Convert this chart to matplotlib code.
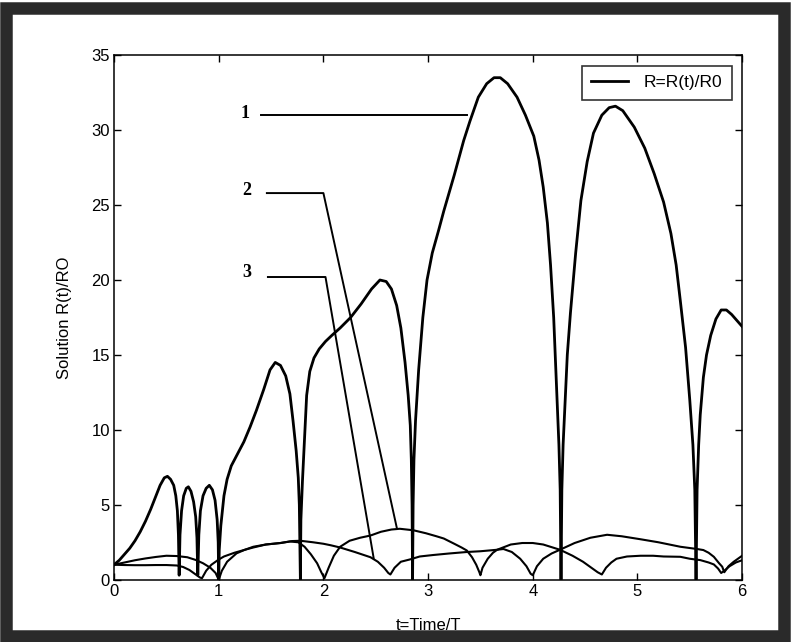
import matplotlib
matplotlib.use("Agg")
from matplotlib import pyplot as plt
from matplotlib.patches import Rectangle

plt.rcParams['font.family'] = ['Liberation Sans', 'DejaVu Sans']

# curve 1 (large oscillation)
t1 = [0.00, 0.05, 0.10, 0.15, 0.20, 0.25, 0.30, 0.35, 0.40, 0.44, 0.48, 0.51, 0.54, 0.57, 0.59, 0.605, 0.615, 0.622,
      0.63, 0.645, 0.665, 0.69, 0.71, 0.735, 0.76, 0.78, 0.792, 0.80,
      0.81, 0.825, 0.85, 0.88, 0.91, 0.94, 0.965, 0.985, 0.995, 1.00,
      1.005, 1.02, 1.05, 1.08, 1.12, 1.18, 1.24, 1.30, 1.36, 1.43, 1.49, 1.54, 1.59, 1.64, 1.68, 1.71, 1.74, 1.76, 1.77, 1.78,
      1.785, 1.80, 1.82, 1.84, 1.87, 1.91, 1.96, 2.02, 2.08, 2.16, 2.26, 2.36, 2.46, 2.54, 2.60, 2.65, 2.70, 2.74, 2.78, 2.81,
      2.83, 2.84, 2.847, 2.852,
      2.857, 2.865, 2.88, 2.91, 2.95, 2.99, 3.04, 3.10, 3.15, 3.25, 3.34, 3.40, 3.48, 3.56, 3.63, 3.69, 3.76, 3.85, 3.93, 4.01,
      4.06, 4.10, 4.14, 4.17, 4.20, 4.23, 4.25, 4.262, 4.27,
      4.278, 4.29, 4.31, 4.33, 4.36, 4.41, 4.46, 4.52, 4.58, 4.66, 4.73, 4.79, 4.86, 4.97, 5.07, 5.16, 5.25, 5.32, 5.37, 5.41,
      5.46, 5.50, 5.53, 5.548, 5.56,
      5.57, 5.585, 5.60, 5.63, 5.66, 5.70, 5.75, 5.80, 5.85, 5.90, 5.95, 6.00]
r1 = [1.0, 1.3, 1.7, 2.1, 2.6, 3.2, 3.9, 4.7, 5.6, 6.3, 6.8, 6.9, 6.7, 6.3, 5.6, 4.6, 3.0, 0.3,
      3.0, 4.6, 5.6, 6.1, 6.2, 5.9, 5.2, 4.2, 2.8, 0.3,
      3.0, 4.6, 5.6, 6.1, 6.3, 6.0, 5.3, 4.0, 2.5, 0.0,
      2.0, 3.6, 5.6, 6.7, 7.6, 8.4, 9.2, 10.2, 11.3, 12.7, 14.0, 14.5, 14.3, 13.6, 12.4, 10.6, 8.6, 6.8, 5.0, 0.0,
      4.0, 6.6, 9.5, 12.3, 13.9, 14.8, 15.4, 15.9, 16.3, 16.8, 17.5, 18.4, 19.4, 20.0, 19.9, 19.4, 18.3, 16.8, 14.5, 12.3,
      10.3, 8.0, 5.0, 0.0,
      5.0, 8.0, 10.6, 14.0, 17.5, 20.0, 21.8, 23.3, 24.6, 27.0, 29.3, 30.6, 32.2, 33.1, 33.5, 33.5, 33.1, 32.2, 31.0, 29.6,
      28.0, 26.2, 23.8, 21.0, 17.5, 12.5, 9.0, 6.0, 0.0,
      6.0, 9.0, 12.0, 15.0, 17.8, 21.8, 25.3, 27.9, 29.8, 31.0, 31.5, 31.6, 31.3, 30.2, 28.8, 27.1, 25.2, 23.1, 21.0, 18.6,
      15.5, 12.0, 9.0, 6.0, 0.0,
      6.0, 9.0, 11.0, 13.5, 15.0, 16.3, 17.4, 18.0, 18.0, 17.7, 17.3, 16.9]

# curve 2 (peak near 3.4)
t2 = [0.0, 0.1, 0.2, 0.3, 0.4, 0.5, 0.6, 0.7, 0.78, 0.85, 0.92, 0.97, 1.0,
      1.03, 1.08, 1.17, 1.25, 1.33, 1.45, 1.59, 1.68, 1.76, 1.82, 1.88, 1.94, 1.98, 2.01,
      2.05, 2.10, 2.16, 2.25, 2.35, 2.45, 2.55, 2.65, 2.73, 2.86, 2.98, 3.08, 3.15, 3.25, 3.32, 3.37, 3.42, 3.46, 3.49, 3.50,
      3.52, 3.57, 3.62, 3.66, 3.72, 3.80, 3.88, 3.94, 3.98, 4.00,
      4.04, 4.10, 4.18, 4.26, 4.40, 4.55, 4.71, 4.85, 5.03, 5.20, 5.41, 5.57, 5.63, 5.68, 5.73, 5.78, 5.81, 5.83,
      5.87, 5.92, 5.96, 6.00]
r2 = [1.0, 1.15, 1.3, 1.42, 1.52, 1.6, 1.58, 1.5, 1.32, 1.1, 0.8, 0.45, 0.0,
      0.6, 1.2, 1.76, 2.0, 2.15, 2.35, 2.45, 2.55, 2.5, 2.2, 1.7, 1.1, 0.5, 0.1,
      0.8, 1.6, 2.2, 2.6, 2.8, 2.95, 3.2, 3.35, 3.4, 3.3, 3.1, 2.9, 2.75, 2.4, 2.15, 1.95, 1.5, 1.0, 0.5, 0.3,
      0.8, 1.4, 1.8, 2.0, 2.05, 1.85, 1.4, 0.9, 0.4, 0.3,
      0.9, 1.4, 1.75, 2.0, 2.45, 2.8, 3.0, 2.9, 2.7, 2.5, 2.2, 2.05, 1.98, 1.8, 1.53, 1.1, 0.87, 0.5,
      0.9, 1.2, 1.4, 1.6]

# curve 3 (low oscillation)
t3 = [0.0, 0.1, 0.2, 0.3, 0.4, 0.5, 0.6, 0.66, 0.72, 0.77, 0.82, 0.84,
      0.88, 0.93, 1.0, 1.05, 1.15, 1.25, 1.33, 1.45, 1.59, 1.70, 1.78, 1.90, 2.00, 2.07, 2.16, 2.30, 2.45, 2.52, 2.58, 2.62, 2.64,
      2.68, 2.74, 2.83, 2.92, 3.05, 3.20, 3.37, 3.50, 3.66, 3.79, 3.90, 4.00, 4.10, 4.26, 4.38, 4.48, 4.56, 4.62, 4.66,
      4.70, 4.75, 4.80, 4.90, 5.03, 5.15, 5.25, 5.41, 5.50, 5.60, 5.68, 5.73, 5.77, 5.80,
      5.83, 5.88, 5.94, 6.00]
r3 = [1.0, 0.98, 0.97, 0.97, 0.98, 0.98, 0.95, 0.85, 0.65, 0.4, 0.15, 0.1,
      0.6, 1.0, 1.35, 1.55, 1.8, 2.0, 2.2, 2.35, 2.45, 2.58, 2.6, 2.5, 2.4, 2.3, 2.15, 1.85, 1.5, 1.2, 0.8, 0.45, 0.35,
      0.8, 1.2, 1.36, 1.55, 1.65, 1.75, 1.85, 1.9, 2.0, 2.35, 2.45, 2.45, 2.35, 2.0, 1.6, 1.2, 0.8, 0.5, 0.35,
      0.8, 1.15, 1.4, 1.55, 1.6, 1.6, 1.55, 1.53, 1.4, 1.31, 1.15, 1.02, 0.75, 0.45,
      0.6, 0.9, 1.15, 1.3]

# numbered labels and their leader lines (data coords)
labels = ["1", "2", "3"]
label_pos = [(1.25, 31.1), (1.27, 26.0), (1.27, 20.5)]
leaders = [
    ([1.40, 3.37], [31.0, 31.0]),
    ([1.46, 2.00, 2.70], [25.8, 25.8, 3.5]),
    ([1.47, 2.02, 2.48], [20.2, 20.2, 1.45]),
]

fig = plt.figure(figsize=(7.92, 6.42), dpi=100)
ax = fig.add_axes([0.144, 0.097, 0.793, 0.817])

ax.plot(t1, r1, color="black", lw=2.0, label="R=R(t)/R0")
ax.plot(t2, r2, color="black", lw=1.5)
ax.plot(t3, r3, color="black", lw=1.5)

for xs, ys in leaders:
    ax.plot(xs, ys, color="black", lw=1.4)
for lab, (x, y) in zip(labels, label_pos):
    ax.text(x, y, lab, fontsize=13, fontweight="bold", family="Liberation Serif",
            ha="center", va="center")

ax.set_xlim(0, 6)
ax.set_ylim(0, 35)
ax.set_xticks(range(0, 7))
ax.set_yticks(range(0, 36, 5))
ax.tick_params(direction="in", length=5, width=1, labelsize=12, top=True, right=True, pad=3)
for s in ax.spines.values():
    s.set_linewidth(1.1)

ax.set_xlabel("t=Time/T", fontsize=12, labelpad=14)
ax.set_ylabel("Solution R(t)/RO", fontsize=12, labelpad=14)

leg = ax.legend(loc="upper right", fontsize=12.5, frameon=True, fancybox=False,
                handlelength=2.1, handletextpad=0.9, borderpad=0.55, borderaxespad=0.6)
leg.get_frame().set_edgecolor("black")
leg.get_frame().set_linewidth(1.2)

# dark scanned border
fig.patches.append(Rectangle((0.008, 0.01), 0.982, 0.978, transform=fig.transFigure,
                             fill=False, lw=9, ec="#2a2a2a"))

fig.savefig("out.png", dpi=100)
